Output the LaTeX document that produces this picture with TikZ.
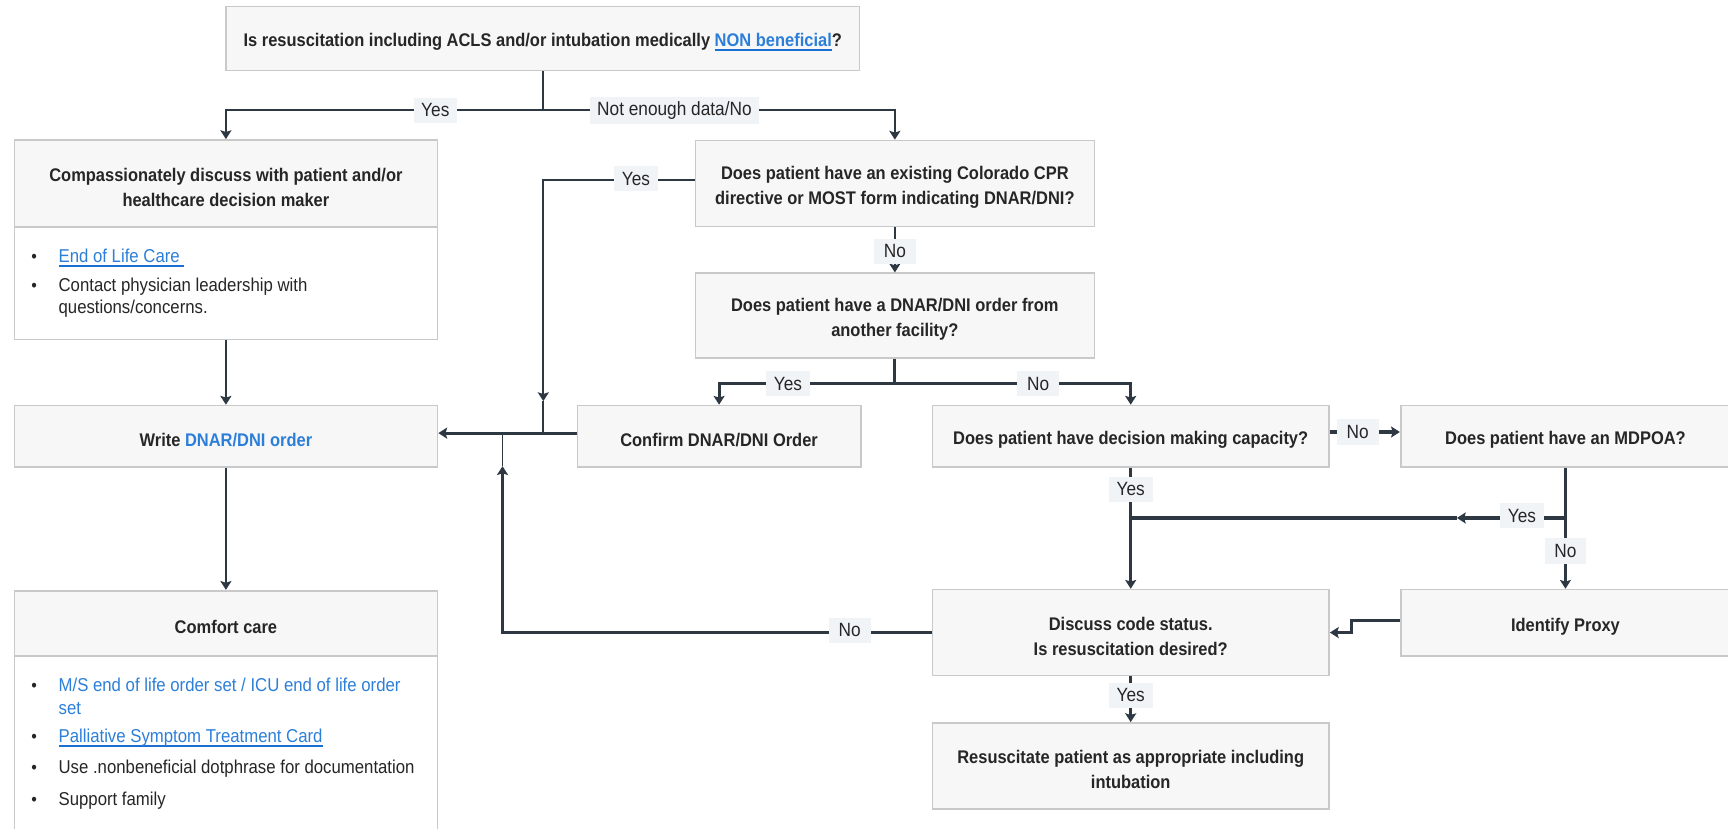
\documentclass[tikz,border=0pt]{standalone}
\usepackage{fontspec}
\setmainfont[FakeStretch=0.9]{Liberation Sans}
\usetikzlibrary{arrows.meta}
\definecolor{ln}{HTML}{2E3842}
\definecolor{bxfill}{HTML}{F7F7F7}
\definecolor{bxdraw}{HTML}{C9C9C9}
\definecolor{lblfill}{HTML}{F1F4F7}
\definecolor{lnk}{HTML}{2C7FD9}
\definecolor{lnkul}{HTML}{1B6FD2}
\definecolor{txt}{HTML}{262626}
\newlength\lnkw
\newcommand\ulink[1]{\settowidth\lnkw{#1}\leavevmode\rlap{\color{lnkul}\rule[-4pt]{\lnkw}{2pt}}{\color{lnk}#1}}
\newcommand\tstrut{\rule{0pt}{19pt}}
\tikzset{
  box/.style={draw=bxdraw, fill=bxfill, line width=1.5pt, inner sep=0pt, align=center,
    text=txt, font=\fontsize{16.6}{23}\selectfont\bfseries},
  bodybox/.style={draw=bxdraw, fill=white, line width=1.5pt, inner sep=0pt},
  lbl/.style={fill=lblfill, inner xsep=7pt, inner ysep=4pt, minimum height=23pt, minimum width=38pt,
    text=txt, font=\fontsize{17.4}{20}\selectfont},
  bul/.style={anchor=mid west, inner sep=0pt, text=txt, font=\fontsize{16.9}{20}\selectfont},
  dot/.style={anchor=mid, inner sep=0pt, text=txt, font=\fontsize{16}{16}\selectfont},
  thinln/.style={draw=ln, line width=1.5pt},
  midln/.style={draw=ln, line width=2.2pt},
  thickln/.style={draw=ln, line width=2.8pt},
  arr/.style={-{Stealth[length=8pt,width=10pt,inset=1.5pt]}},
}
\begin{document}
\begin{tikzpicture}[x=1pt,y=-1pt]
\useasboundingbox (0,0) rectangle (1568,752);
% boxes
\node[box, minimum width=575pt, minimum height=58pt] (T) at (492.5,35)
  {\tstrut Is resuscitation including ACLS and/or intubation medically \ulink{NON beneficial}?};
\node[box, minimum width=384pt, minimum height=79pt] (Ch) at (205,166.5)
  {\tstrut Compassionately discuss with patient and/or\\healthcare decision maker};
\node[bodybox, minimum width=384pt, minimum height=102pt] (Cb) at (205,257) {};
\node[box, minimum width=384pt, minimum height=56pt] (W) at (205,396)
  {\tstrut Write \textcolor{lnk}{DNAR/DNI order}};
\node[box, minimum width=384pt, minimum height=59pt] (CCh) at (205,565.5) {\tstrut Comfort care};
\node[bodybox, minimum width=384pt, minimum height=158pt] (CCb) at (205,674) {};
\node[box, minimum width=362pt, minimum height=78pt] (D) at (812,166.5)
  {\tstrut Does patient have an existing Colorado CPR\\directive or MOST form indicating DNAR/DNI?};
\node[box, minimum width=362pt, minimum height=77pt] (E) at (812,286.5)
  {\tstrut Does patient have a DNAR/DNI order from\\another facility?};
\node[box, minimum width=257pt, minimum height=56pt] (F) at (652.5,396) {\tstrut Confirm DNAR/DNI Order};
\node[box, minimum width=360pt, minimum height=56pt] (G) at (1026,396) {\tstrut Does patient have decision making capacity?};
\node[box, minimum width=299pt, minimum height=56pt] (H) at (1420.5,396) {\tstrut Does patient have an MDPOA?};
\node[box, minimum width=360pt, minimum height=78pt] (I) at (1026,574)
  {\tstrut Discuss code status.\\Is resuscitation desired?};
\node[box, minimum width=299pt, minimum height=60pt] (J) at (1420.5,565) {\tstrut Identify Proxy};
\node[box, minimum width=360pt, minimum height=78pt] (K) at (1026,695)
  {\tstrut Resuscitate patient as appropriate including\\intubation};
% bullets
\node[dot] (b1) at (31,236) {•};
\node[bul] (t1) at (53,236) {\ulink{End of Life Care\ }};
\node[dot] (b2) at (31,262) {•};
\node[bul] (t2) at (53,262) {Contact physician leadership with};
\node[bul] (t2b) at (53,282) {questions/concerns.};
\node[dot] (b3) at (31,625) {•};
\node[bul] (t3) at (53,625) {\textcolor{lnk}{M/S end of life order set / ICU end of life order}};
\node[bul] (t3b) at (53,646) {\textcolor{lnk}{set}};
\node[dot] (b4) at (31,671) {•};
\node[bul] (t4) at (53,671) {\ulink{Palliative Symptom Treatment Card}};
\node[dot] (b5) at (31,699) {•};
\node[bul] (t5) at (53,699) {Use .nonbeneficial dotphrase for documentation};
\node[dot] (b6) at (31,728) {•};
\node[bul] (t6) at (53,728) {Support family};
% coordinates
\coordinate (tj) at (492.5,100);
\coordinate (dyA) at (493,364);
\coordinate (dyJ) at (493,393);
\coordinate (inA) at (456,423);
\coordinate (inJ) at (456,393);
\coordinate (ej) at (812,348);
\coordinate (hj) at (1420.5,470);
\coordinate (hA) at (1322,470);
\coordinate (gj) at (1026,470);
% connectors
\draw[thinln] (T.south) -- (tj);
\draw[thinln,arr] (tj) -| (Ch.north);
\draw[thinln,arr] (tj) -| (D.north);
\draw[thinln,arr] (Cb.south) -- (W.north);
\draw[thinln,arr] (W.south) -- (CCh.north);
\draw[thinln,arr] ([yshift=3pt]D.west) -| (dyA);
\draw[thinln] (dyA) -- (dyJ);
\draw[thickln,arr] ([yshift=3pt]F.west) -- ([yshift=3pt]W.east);
\draw[midln,arr] (I.west) -| (inA);
\draw[thinln] (inA) -- (inJ);
\draw[midln,arr] (D.south) -- (E.north);
\draw[thickln] (E.south) -- (ej);
\draw[thickln,arr] (ej) -| (F.north);
\draw[thickln,arr] (ej) -| (G.north);
\draw[thickln,arr] ([yshift=4pt]G.east) -- ([yshift=4pt]H.west);
\draw[thickln,arr] (G.south) -- (I.north);
\draw[thickln,arr] (H.south) -- (J.north);
\draw[thickln,arr] (hj) -- (hA);
\draw[thickln] (hA) -- (gj);
\draw[thickln,arr] ([yshift=2pt]J.west) -- ++(-44,0) |- (I.east);
\draw[midln,arr] (I.south) -- (K.north);
% labels
\node[lbl] (l1) at (395,100) {Yes};
\node[lbl] (l2) at (612,100) {Not enough data/No};
\node[lbl] (l3) at (577,162) {Yes};
\node[lbl] (l4) at (812,228) {No};
\node[lbl] (l5) at (715,348) {Yes};
\node[lbl] (l6) at (942,348) {No};
\node[lbl] (l7) at (1232,392) {No};
\node[lbl] (l8) at (1026,444) {Yes};
\node[lbl] (l9) at (1381,468) {Yes};
\node[lbl] (l10) at (1420.5,500) {No};
\node[lbl] (l11) at (771,572) {No};
\node[lbl] (l12) at (1026,631) {Yes};
\end{tikzpicture}
\end{document}
